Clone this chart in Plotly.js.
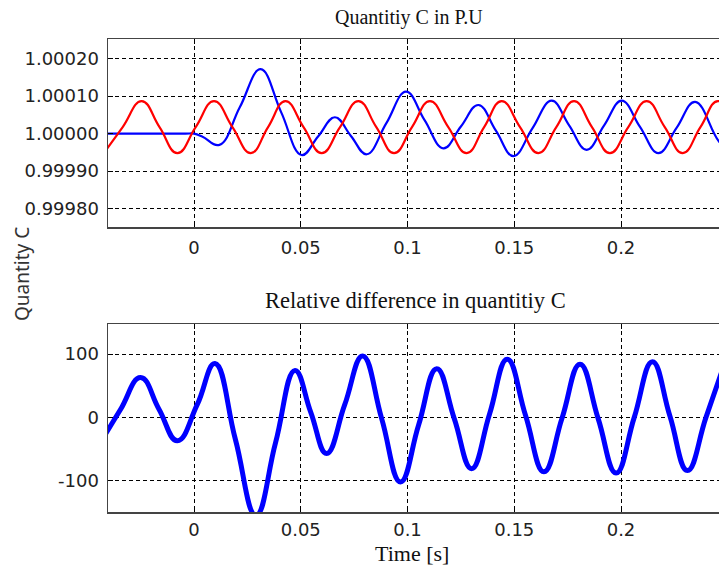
<!DOCTYPE html>
<html>
<head>
<meta charset="utf-8">
<script src="https://cdn.plot.ly/plotly-3.0.1.min.js"></script>
<style>
html, body { margin: 0; padding: 0; overflow: hidden; background: #fff; }
#chart { width: 740px; height: 570px; }
</style>
</head>
<body>
<div id="chart"></div>
<script>
// Top panel: Quantity C in P.U
const topBlueT = [-0.045, -0.02, -0.004, 0.0, 0.004, 0.0119, 0.0215, 0.0312, 0.0408, 0.0504, 0.0582, 0.066, 0.0735, 0.0809, 0.0901, 0.0993, 0.108, 0.1168, 0.125, 0.1332, 0.1414, 0.1496, 0.1585, 0.1675, 0.1757, 0.1839, 0.1921, 0.2003, 0.2089, 0.2175, 0.2261, 0.2347, 0.2459, 0.2519];
const topBlueV = [1.0, 1.0, 1.0, 1.0, 0.999992, 0.99997, 1.000071, 1.000172, 1.0000575, 0.999943, 0.999993, 1.0000437, 0.999994, 0.999945, 1.000028, 1.000112, 1.000036, 0.999961, 1.000019, 1.0000765, 1.000008, 0.99994, 1.000014, 1.000088, 1.000022, 0.999957, 1.000022, 1.000088, 1.000018, 0.999948, 1.000016, 1.000085, 0.999979, 0.99995];

const topRedT = [-0.0422, -0.0334, -0.0245, -0.01615, -0.0078, 0.00079, 0.00937, 0.018, 0.0266, 0.0347, 0.0428, 0.0513, 0.0598, 0.0684, 0.0770, 0.0854, 0.0937, 0.1021, 0.1105, 0.1191, 0.1277, 0.1359, 0.1441, 0.1527, 0.1613, 0.1697, 0.1780, 0.1864, 0.1948, 0.2034, 0.2120, 0.2205, 0.2289, 0.2372, 0.2454, 0.254];
const topRedV = [0.999948, 1.0000175, 1.000087, 1.0000175, 0.999948, 1.0000175, 1.000087, 1.0000175, 0.999948, 1.0000175, 1.000087, 1.0000175, 0.999948, 1.0000175, 1.000087, 1.0000175, 0.999948, 1.0000175, 1.000087, 1.0000175, 0.999948, 1.0000175, 1.000087, 1.0000175, 0.999948, 1.0000175, 1.000087, 1.0000175, 0.999948, 1.0000175, 1.000087, 1.0000175, 0.999948, 1.0000175, 1.000087, 1.0000175];

// Bottom panel: relative difference
const diffT = [-0.0435, -0.0345, -0.025, -0.0164, -0.0078, 0.0015, 0.0098, 0.0194, 0.029, 0.0382, 0.0473, 0.0547, 0.0621, 0.0706, 0.079, 0.0879, 0.0967, 0.1052, 0.1137, 0.1219, 0.13, 0.1384, 0.1467, 0.1553, 0.1639, 0.1724, 0.1808, 0.1893, 0.1977, 0.2062, 0.2147, 0.2229, 0.2311, 0.2398, 0.2485];
const diffV = [-38, 12, 63, 13, -37, 20, 85, -35, -155, -40, 74, 8, -57, 20, 97, -2, -102, -12, 77, -2, -81, 5, 92, 3, -86, -1, 84, -2, -88, 0, 88, 2, -84, 0, 85];

// Tick labels
const xTickVals = [0, 0.05, 0.1, 0.15, 0.2];
const xTickText = ["0", "0.05", "0.1", "0.15", "0.2"];
const topYTickVals = [0.9998, 0.9999, 1.0, 1.0001, 1.0002];
const topYTickText = ["0.99980", "0.99990", "1.00000", "1.00010", "1.00020"];
const botYTickVals = [-100, 0, 100];
const botYTickText = ["-100", "0", "100"];

const tickFont = { family: "DejaVu Sans", size: 18, color: "#222" };
const titleFont = { family: "Liberation Serif", size: 20, color: "#111" };
const bigTitleFont = { family: "Liberation Serif", size: 22.5, color: "#111" };

const traces = [
  { x: topBlueT, y: topBlueV, xaxis: "x", yaxis: "y", type: "scatter", mode: "lines",
    line: { color: "#0000ff", width: 2.2, shape: "spline", smoothing: 1.2 }, hoverinfo: "skip" },
  { x: topRedT, y: topRedV, xaxis: "x", yaxis: "y", type: "scatter", mode: "lines",
    line: { color: "#ff0000", width: 2.2, shape: "spline", smoothing: 1.3 }, hoverinfo: "skip" },
  { x: diffT, y: diffV, xaxis: "x2", yaxis: "y2", type: "scatter", mode: "lines",
    line: { color: "#0000ff", width: 5, shape: "spline", smoothing: 1.3 }, hoverinfo: "skip" }
];

const xRange = [-0.04028, 0.25105];
const commonX = {
  range: xRange, tickvals: xTickVals, ticktext: xTickText, tickfont: tickFont,
  showgrid: true, gridcolor: "#000", gridwidth: 1, griddash: "4px,3px",
  showline: true, linecolor: "#444", linewidth: 1.5, mirror: "ticks",
  ticks: "inside", ticklen: 5, tickcolor: "#000", zeroline: false, fixedrange: true
};
const commonY = {
  tickfont: tickFont,
  showgrid: true, gridcolor: "#000", gridwidth: 1, griddash: "4px,3px",
  showline: true, linecolor: "#444", linewidth: 1.5, mirror: "ticks",
  ticks: "inside", ticklen: 5, tickcolor: "#000", zeroline: false, fixedrange: true,
  ticklabelstandoff: 4
};

const layout = {
  width: 740, height: 570,
  margin: { l: 108, r: 10, t: 0, b: 0, pad: 0 },
  paper_bgcolor: "#fff", plot_bgcolor: "#fff",
  showlegend: false,
  xaxis: Object.assign({}, commonX, { anchor: "y", domain: [0, 1], ticklabelstandoff: 4 }),
  yaxis: Object.assign({}, commonY, { anchor: "x", domain: [1 - 227/570, 1 - 39/570],
    range: [0.999751, 1.0002525], tickvals: topYTickVals, ticktext: topYTickText }),
  xaxis2: Object.assign({}, commonX, { anchor: "y2", domain: [0, 1], ticklabelstandoff: 1 }),
  yaxis2: Object.assign({}, commonY, { anchor: "x2", domain: [1 - 512/570, 1 - 324/570],
    range: [-149.5, 147.5], tickvals: botYTickVals, ticktext: botYTickText }),
  annotations: [
    { text: "Quantitiy C in P.U", xref: "paper", yref: "paper", x: 0.4839, y: 1 - 18/570,
      xanchor: "center", yanchor: "middle", showarrow: false, font: titleFont },
    { text: "Relative difference in quantitiy C", xref: "paper", yref: "paper", x: 0.495, y: 1 - 300/570,
      xanchor: "center", yanchor: "middle", showarrow: false, font: bigTitleFont },
    { text: "Time [s]", xref: "paper", yref: "paper", x: 0.4895, y: 1 - 553/570,
      xanchor: "center", yanchor: "middle", showarrow: false, font: { family: "Liberation Serif", size: 22, color: "#111" } },
    { text: "Quantity C", xref: "paper", yref: "paper", x: (22 - 108)/622, y: 1 - 274/570,
      xanchor: "center", yanchor: "middle", showarrow: false, textangle: -90,
      font: { family: "Noto Sans", size: 19, color: "#333" } }
  ]
};

Plotly.newPlot("chart", traces, layout, { displayModeBar: false, staticPlot: true });
</script>
</body>
</html>
